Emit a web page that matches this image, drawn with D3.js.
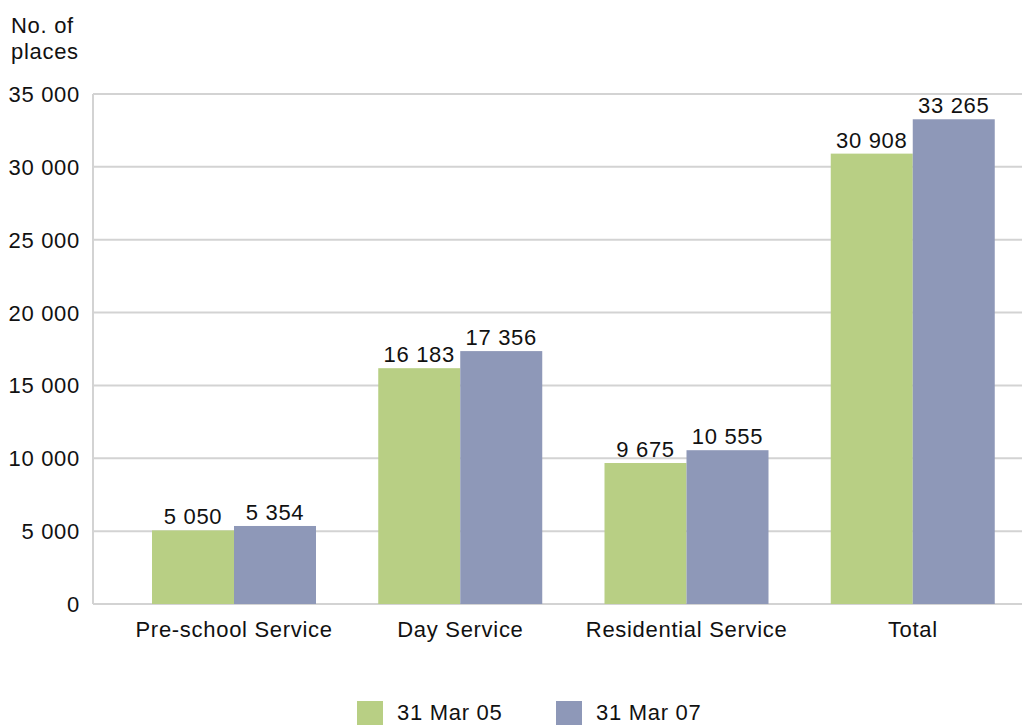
<!DOCTYPE html>
<head>
  <meta charset="utf-8">
  <script src="https://cdn.jsdelivr.net/npm/d3@7"></script>
  <style>
    body { margin: 0; background: white; }
    text { font-family: "Liberation Sans", Arial, sans-serif; font-size: 22px; letter-spacing: 0.7px; fill: #111; }
  </style>
</head>
<body>
<script>
const categories = ['Pre-school Service', 'Day Service', 'Residential Service', 'Total']
const series = ['31 Mar 05', '31 Mar 07']
const mar05 = [5050, 16183, 9675, 30908]
const mar07 = [5354, 17356, 10555, 33265]
const yTicks = [0, 5000, 10000, 15000, 20000, 25000, 30000, 35000]
const colors = ['#b8cf84', '#8e98b8']

const W = 1025, H = 726
const plotL = 93, plotR = 1022, plotT = 94, plotB = 604

const svg = d3.select('body').append('svg').attr('width', W).attr('height', H)

// spaced thousands, e.g. 33 265
const fmt = v => d3.format(',')(v).replace(/,/g, ' ')

const y = d3.scaleLinear().domain([0, 35000]).range([plotB, plotT])
const x = d3.scaleBand().domain(categories).range([121, 1026])
const xs = d3.scaleBand().domain(series).range([31, 195])

// grid
svg.append('g')
  .selectAll('line')
  .data(yTicks)
  .enter()
  .append('line')
  .attr('x1', plotL).attr('x2', plotR)
  .attr('y1', d => y(d)).attr('y2', d => y(d))
  .attr('stroke', '#d3d3d3')
  .attr('stroke-width', 2)

svg.append('line')
  .attr('x1', plotL).attr('x2', plotL)
  .attr('y1', plotT).attr('y2', plotB)
  .attr('stroke', '#d3d3d3')
  .attr('stroke-width', 2)

// y tick labels
svg.append('g')
  .selectAll('text')
  .data(yTicks)
  .enter()
  .append('text')
  .attr('x', 80)
  .attr('y', d => y(d) + 8)
  .attr('text-anchor', 'end')
  .text(d => fmt(d))

svg.append('text').attr('x', 11).attr('y', 33).text('No. of')
svg.append('text').attr('x', 11).attr('y', 59).text('places')

// bars
const rows = categories.map((c, i) => ({ cat: c, vals: [mar05[i], mar07[i]] }))
const groups = svg.append('g')
  .selectAll('g')
  .data(rows)
  .enter()
  .append('g')
  .attr('transform', d => `translate(${x(d.cat)},0)`)

groups.selectAll('rect')
  .data(d => d.vals.map((v, j) => ({ s: series[j], v, j })))
  .enter()
  .append('rect')
  .attr('x', d => xs(d.s))
  .attr('width', xs.bandwidth())
  .attr('y', d => y(d.v))
  .attr('height', d => plotB - y(d.v))
  .attr('fill', d => colors[d.j])

groups.selectAll('text.val')
  .data(d => d.vals.map((v, j) => ({ s: series[j], v, j })))
  .enter()
  .append('text')
  .attr('class', 'val')
  .attr('x', d => xs(d.s) + xs.bandwidth() / 2)
  .attr('y', d => y(d.v) - 6)
  .attr('text-anchor', 'middle')
  .text(d => fmt(d.v))

// category labels
svg.append('g')
  .selectAll('text')
  .data(categories)
  .enter()
  .append('text')
  .attr('x', d => x(d) + x.bandwidth() / 2)
  .attr('y', 637)
  .attr('text-anchor', 'middle')
  .text(d => d)

// legend
const legX = [357, 556]
const leg = svg.append('g')
  .selectAll('g')
  .data(series)
  .enter()
  .append('g')
  .attr('transform', (d, i) => `translate(${legX[i]},701)`)
leg.append('rect').attr('width', 26).attr('height', 24).attr('fill', (d, i) => colors[i])
leg.append('text').attr('x', 40).attr('y', 19).text(d => d)
</script>
</body>
